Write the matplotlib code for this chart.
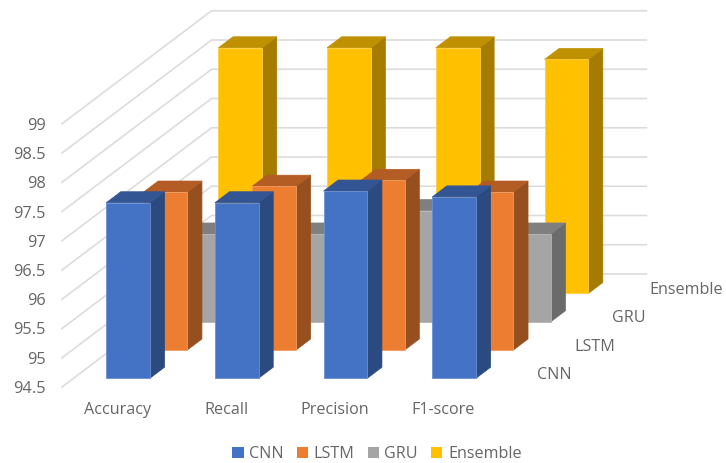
import matplotlib
matplotlib.use("Agg")
import matplotlib.pyplot as plt
from matplotlib.patches import Polygon, Patch

plt.rcParams['font.family'] = ['Open Sans', 'DejaVu Sans']

categories = ['Accuracy', 'Recall', 'Precision', 'F1-score']
series = ['CNN', 'LSTM', 'GRU', 'Ensemble']
cnn = [97.5, 97.5, 97.7, 97.6]
lstm = [97.2, 97.3, 97.4, 97.2]
gru = [96.0, 96.0, 96.4, 96.0]
ensemble = [98.7, 98.7, 98.7, 98.5]
y_ticks = [94.5, 95, 95.5, 96, 96.5, 97, 97.5, 98, 98.5, 99]

# (front, top, side, front edge) shades for each series
shades = [('#4472C4', '#335593', '#2A4A80', '#6A90D4'),
          ('#ED7D31', '#B35D24', '#964F1E', '#F29A5E'),
          ('#A5A5A5', '#7F7F7F', '#6B6B6B', '#B5B5B5'),
          ('#FFC000', '#BF9000', '#A67C00', '#FFCF40')]
text_colour = '#666666'
grid_colour = '#DCDCDC'

# oblique projection of the chart box onto the picture
X0, Y0 = 62, 387
CAT_W = 108.7
DEPTH_X, DEPTH_Y = 37.4, 28.25
UNIT = 58.5
VMIN = 94.5
BAR_LEFT, BAR_RIGHT = 0.30, 0.7024
BAR_FRONT, BAR_BACK = 0.31, 0.70


def project(cat, depth, value):
    x = X0 + CAT_W * cat + DEPTH_X * depth
    y = Y0 - DEPTH_Y * depth - UNIT * (value - VMIN)
    return (x, y)


def draw_bar(ax, cat, s, value, colours):
    x1, x2 = cat + BAR_LEFT, cat + BAR_RIGHT
    d1, d2 = s + BAR_FRONT, s + BAR_BACK
    front = [project(x1, d1, VMIN), project(x2, d1, VMIN), project(x2, d1, value), project(x1, d1, value)]
    top = [project(x1, d1, value), project(x2, d1, value), project(x2, d2, value), project(x1, d2, value)]
    side = [project(x2, d1, VMIN), project(x2, d2, VMIN), project(x2, d2, value), project(x2, d1, value)]
    ax.add_patch(Polygon(side, closed=True, fc=colours[2], ec=colours[2], lw=0.5, zorder=3))
    ax.add_patch(Polygon(top, closed=True, fc=colours[1], ec=colours[1], lw=0.5, zorder=3))
    ax.add_patch(Polygon(front, closed=True, fc=colours[0], ec=colours[3], lw=0.6, zorder=3))


fig = plt.figure(figsize=(7.26, 4.63), dpi=100)
ax = fig.add_axes([0, 0, 1, 1])
ax.set_xlim(0, 726)
ax.set_ylim(463, 0)
ax.axis('off')

n_cat = len(categories)
n_ser = len(series)

# walls
for v in y_ticks:
    a = project(0, 0, v)
    b = project(0, n_ser, v)
    c = project(n_cat, n_ser, v)
    ax.plot([a[0], b[0], c[0]], [a[1], b[1], c[1]], color=grid_colour, lw=1.2, solid_joinstyle='miter', zorder=1)
    ax.text(a[0] - 16, a[1] + 2, '%g' % v, ha='right', va='center', fontsize=11.8, color=text_colour)

# back to front
values = [cnn, lstm, gru, ensemble]
for s in range(n_ser - 1, -1, -1):
    for i in range(n_cat):
        draw_bar(ax, i, s, values[s][i], shades[s])

for i, name in enumerate(categories):
    ax.text(X0 + CAT_W * (i + 0.5) + 1, 410, name, ha='center', va='center', fontsize=11.6, color=text_colour)

for s, name in enumerate(series):
    x, y = project(n_cat, s, VMIN)
    ax.text(x + 40, y - 12, name, ha='left', va='center', fontsize=11.6, color=text_colour)

handles = [Patch(fc=shades[s][0], ec='none', label=series[s]) for s in range(n_ser)]
ax.legend(handles=handles, loc='center', bbox_to_anchor=(377 / 726, 1 - 454 / 463), ncol=4, frameon=False,
          fontsize=11.6, labelcolor=text_colour, handlelength=0.7, handleheight=0.7, handletextpad=0.35,
          columnspacing=0.8, borderpad=0)

fig.savefig('out.png', dpi=100, facecolor='white')
